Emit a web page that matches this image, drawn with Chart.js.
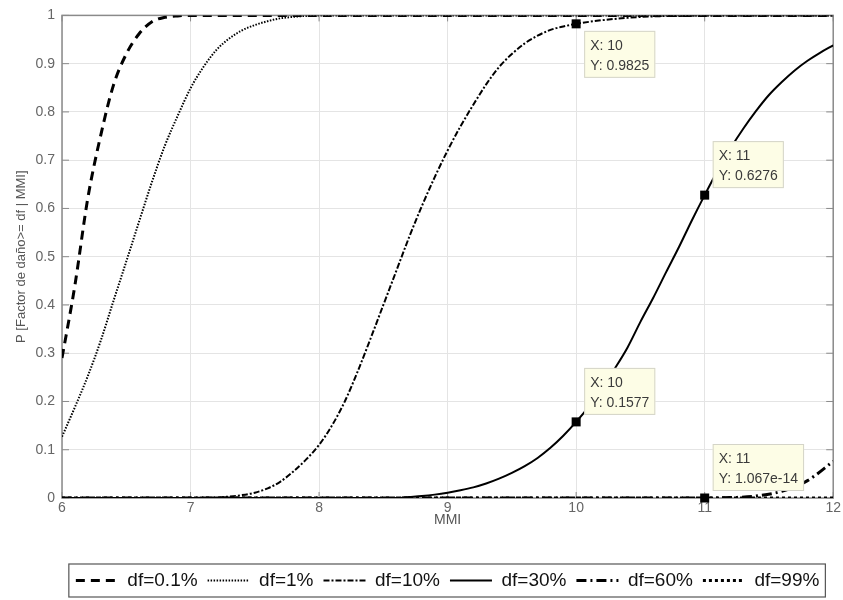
<!DOCTYPE html>
<html>
<head>
<meta charset="utf-8">
<script src="https://cdn.jsdelivr.net/npm/chart.js@4.4.0/dist/chart.umd.min.js"></script>
<style>
    html, body { margin: 0; padding: 0; background: #fff; }
    #wrap { width: 843px; height: 600px; }
</style>
</head>
<body>
<div id="wrap"><canvas id="fragChart" width="843" height="600"></canvas></div>
<script>
// values
const seriesLabels = ['df=0.1%', 'df=1%', 'df=10%', 'df=30%', 'df=60%', 'df=99%'];

const mmi01 = [6, 6.1, 6.2, 6.3, 6.4, 6.5, 6.6, 6.7, 6.8, 6.9, 7, 8, 9, 10, 11, 12];
const p01 = [0.29, 0.44, 0.62, 0.75, 0.855, 0.92, 0.962, 0.987, 0.996, 0.999, 1, 1, 1, 1, 1, 1];

const mmi1 = [6, 6.1, 6.2, 6.3, 6.4, 6.5, 6.6, 6.7, 6.8, 6.9, 7, 7.1, 7.2, 7.3, 7.4, 7.5, 7.6, 7.7, 7.8, 7.9, 8, 9, 10, 11, 12];
const p1 = [0.127, 0.188, 0.252, 0.325, 0.408, 0.49, 0.573, 0.655, 0.73, 0.792, 0.849, 0.893, 0.928, 0.952, 0.969, 0.98, 0.988, 0.994, 0.997, 0.999, 1, 1, 1, 1, 1];

const mmi10 = [6, 7, 7.1, 7.2, 7.3, 7.4, 7.5, 7.6, 7.7, 7.8, 7.9, 8, 8.1, 8.2, 8.3, 8.4, 8.5, 8.6, 8.7, 8.8, 8.9, 9,
    9.1, 9.2, 9.3, 9.4, 9.5, 9.6, 9.7, 9.8, 9.9, 10, 10.2, 10.4, 10.6, 10.8, 11, 12];
const p10 = [0, 0, 0.0005, 0.001, 0.003, 0.006, 0.011, 0.02, 0.034, 0.055, 0.08, 0.11, 0.15, 0.2, 0.262, 0.33, 0.4, 0.47, 0.54, 0.605, 0.665, 0.72,
    0.77, 0.815, 0.857, 0.893, 0.92, 0.942, 0.958, 0.97, 0.977, 0.9825, 0.99, 0.995, 0.998, 0.999, 1, 1];

const mmi30 = [6, 8.6, 8.7, 8.8, 8.9, 9, 9.1, 9.2, 9.3, 9.4, 9.5, 9.6, 9.7, 9.8, 9.9, 10, 10.1, 10.2, 10.3, 10.4, 10.5,
    10.6, 10.7, 10.8, 10.9, 11, 11.1, 11.2, 11.3, 11.4, 11.5, 11.6, 11.7, 11.8, 11.9, 12];
const p30 = [0, 0, 0.002, 0.004, 0.007, 0.011, 0.016, 0.022, 0.03, 0.04, 0.052, 0.066, 0.083, 0.104, 0.129, 0.1577, 0.19, 0.227, 0.268, 0.312, 0.365,
    0.415, 0.468, 0.52, 0.575, 0.6276, 0.678, 0.724, 0.765, 0.802, 0.835, 0.862, 0.886, 0.906, 0.923, 0.938];

const mmi60 = [6, 11, 11.2, 11.4, 11.6, 11.8, 12];
const p60 = [0, 0, 0.0008, 0.004, 0.014, 0.036, 0.076];

const mmi99 = [6, 12];
const p99 = [0, 0];

const xTicks = [6, 7, 8, 9, 10, 11, 12];

// data tips shown on the figure
const tipX = [10, 10, 11, 11];
const tipY = [0.9825, 0.1577, 0.6276, 1.067e-14];
const tipText = ['0.9825', '0.1577', '0.6276', '1.067e-14'];
const tipBelow = [true, false, false, false];

function pts(xs, ys) {
    return xs.map((x, i) => ({ x: x, y: ys[i] }));
}

const FONT = '"Liberation Sans", Arial, Helvetica, sans-serif';
const AXIS_GREY = '#8a8a8a';

const lineStyles = [
    { borderWidth: 3, borderDash: [9, 6] },
    { borderWidth: 2, borderDash: [1.5, 1.5] },
    { borderWidth: 2, borderDash: [6, 2, 2, 2] },
    { borderWidth: 2, borderDash: [] },
    { borderWidth: 3, borderDash: [10, 4, 2, 4] },
    { borderWidth: 3, borderDash: [3, 3] }
];

const seriesData = [pts(mmi01, p01), pts(mmi1, p1), pts(mmi10, p10), pts(mmi30, p30), pts(mmi60, p60), pts(mmi99, p99)];

const datasets = seriesLabels.map((label, i) => ({
    label: label,
    data: seriesData[i],
    borderColor: '#000',
    backgroundColor: '#000',
    borderWidth: lineStyles[i].borderWidth,
    borderDash: lineStyles[i].borderDash,
    pointRadius: 0,
    fill: false,
    cubicInterpolationMode: 'monotone'
}));

// box, inward ticks, data tips and legend frame like the original figure
const matlabAxes = {
    id: 'matlabAxes',
    beforeDatasetsDraw(chart) {
        const { ctx, chartArea: a, scales } = chart;
        ctx.save();
        ctx.strokeStyle = AXIS_GREY;
        ctx.lineWidth = 1.5;
        ctx.strokeRect(a.left, a.top, a.right - a.left, a.bottom - a.top);
        ctx.lineWidth = 1;
        ctx.beginPath();
        scales.x.ticks.forEach(t => {
            const px = scales.x.getPixelForValue(t.value);
            ctx.moveTo(px, a.bottom); ctx.lineTo(px, a.bottom - 6);
            ctx.moveTo(px, a.top); ctx.lineTo(px, a.top + 6);
        });
        scales.y.ticks.forEach(t => {
            const py = scales.y.getPixelForValue(t.value);
            ctx.moveTo(a.left, py); ctx.lineTo(a.left + 7, py);
            ctx.moveTo(a.right, py); ctx.lineTo(a.right - 7, py);
        });
        ctx.stroke();
        ctx.restore();
    },
    afterDatasetsDraw(chart) {
        const { ctx, scales } = chart;
        ctx.save();
        ctx.font = '14px ' + FONT;
        tipX.forEach((xv, i) => {
            const px = scales.x.getPixelForValue(xv);
            const py = scales.y.getPixelForValue(tipY[i]);
            ctx.fillStyle = '#000';
            ctx.fillRect(px - 4.5, py - 4.5, 9, 9);

            const l1 = 'X: ' + xv;
            const l2 = 'Y: ' + tipText[i];
            const w = Math.max(ctx.measureText(l1).width, ctx.measureText(l2).width) + 12;
            const h = 47;
            const bx = px + 8;
            const by = tipBelow[i] ? py + 7 : py - 7 - h;
            ctx.fillStyle = '#fdfde6';
            ctx.fillRect(bx, by, w, h);
            ctx.strokeStyle = '#d4d4c8';
            ctx.lineWidth = 1;
            ctx.strokeRect(bx + 0.5, by + 0.5, w - 1, h - 1);
            ctx.fillStyle = '#3a3a3a';
            ctx.textBaseline = 'middle';
            ctx.fillText(l1, bx + 6, by + 15);
            ctx.fillText(l2, bx + 6, by + 35);
        });
        ctx.restore();
    },
    afterDraw(chart) {
        const boxes = chart.legend && chart.legend.legendHitBoxes;
        if (!boxes || !boxes.length) return;
        const { ctx } = chart;
        const left = Math.min(...boxes.map(b => b.left)) - 7;
        const right = Math.max(...boxes.map(b => b.left + b.width)) + 6;
        const top = Math.min(...boxes.map(b => b.top)) - 7;
        const bottom = Math.max(...boxes.map(b => b.top + b.height)) + 7;
        ctx.save();
        ctx.strokeStyle = '#555';
        ctx.lineWidth = 1.2;
        ctx.strokeRect(left, top, right - left, bottom - top);
        ctx.restore();
    }
};

const ctx = document.getElementById('fragChart').getContext('2d');
new Chart(ctx, {
    type: 'line',
    data: { datasets: datasets },
    plugins: [matlabAxes],
    options: {
        responsive: false,
        animation: false,
        layout: { padding: { left: 0, right: 5, top: 10, bottom: 0 } },
        plugins: {
            tooltip: { enabled: false },
            legend: {
                position: 'bottom',
                fullSize: false,
                title: { display: true, text: '', padding: { top: 14, bottom: 0 }, font: { size: 15 } },
                labels: {
                    usePointStyle: true,
                    pointStyleWidth: 42,
                    padding: 10,
                    color: '#111',
                    font: { family: FONT, size: 19 },
                    generateLabels: chart => chart.data.datasets.map((ds, i) => ({
                        text: ds.label,
                        datasetIndex: i,
                        hidden: false,
                        fillStyle: '#000',
                        strokeStyle: '#000',
                        fontColor: '#111',
                        lineWidth: ds.borderWidth,
                        lineDash: ds.borderDash,
                        lineCap: 'butt',
                        pointStyle: 'line'
                    }))
                }
            }
        },
        scales: {
            x: {
                type: 'linear',
                min: 6,
                max: 12,
                afterBuildTicks: s => { s.ticks = xTicks.map(v => ({ value: v })); },
                afterFit: s => { s.height = 31; },
                grid: { color: '#e4e4e4', drawTicks: false },
                border: { display: false },
                ticks: { color: '#666', padding: 2, font: { family: FONT, size: 14 } },
                title: { display: true, text: 'MMI', color: '#555', padding: { top: 0, bottom: 0 }, font: { family: FONT, size: 14 } }
            },
            y: {
                min: 0,
                max: 1,
                afterFit: s => { s.width = 62; },
                grid: { color: '#e4e4e4', drawTicks: false },
                border: { display: false },
                ticks: {
                    stepSize: 0.1,
                    color: '#666',
                    padding: 7,
                    font: { family: FONT, size: 14 },
                    callback: v => String(Number(v.toFixed(1)))
                },
                title: { display: true, text: 'P [Factor de daño>= df | MMI]', color: '#555', padding: { top: 14, bottom: 0 }, font: { family: FONT, size: 13 } }
            }
        }
    }
});
</script>
</body>
</html>
